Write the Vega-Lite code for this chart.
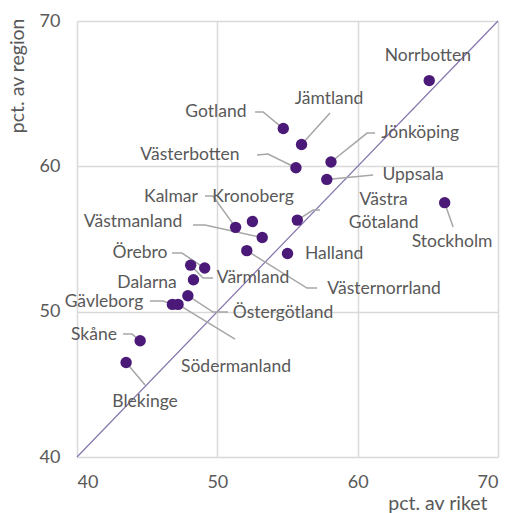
{
  "$schema": "https://vega.github.io/schema/vega-lite/v6.json",
  "width": 421,
  "height": 436,
  "autosize": {"type": "none"},
  "padding": {"left": 77, "top": 21, "right": 11, "bottom": 56},
  "background": "white",
  "config": {
    "view": {"stroke": null},
    "font": "Lato",
    "axis": {
      "grid": true, "gridColor": "#d9d9d9", "gridWidth": 1.5,
      "domain": false, "ticks": false,
      "labelColor": "#595959", "labelFontSize": 18, "labelFont": "Lato",
      "titleColor": "#595959", "titleFontSize": 19.5, "titleFont": "Lato", "titleFontWeight": "normal"
    }
  },
  "datasets": {
    "points": [
      {"region": "Norrbotten", "riket": 65.1, "reg": 65.9, "lx": 65.0, "ly": 67.6},
      {"region": "Gotland", "riket": 54.7, "reg": 62.6, "lx": 49.9, "ly": 63.74},
      {"region": "Jämtland", "riket": 56.0, "reg": 61.5, "lx": 57.96, "ly": 64.63},
      {"region": "Jönköping", "riket": 58.1, "reg": 60.3, "lx": 64.45, "ly": 62.29},
      {"region": "Västerbotten", "riket": 55.6, "reg": 59.9, "lx": 48.05, "ly": 60.78},
      {"region": "Uppsala", "riket": 57.8, "reg": 59.1, "lx": 63.95, "ly": 59.4},
      {"region": "Stockholm", "riket": 66.2, "reg": 57.5, "lx": 66.73, "ly": 54.79},
      {"region": "Västra Götaland", "riket": 55.7, "reg": 56.3, "lx": 61.85, "ly": 57.68},
      {"region": "Halland", "riket": 55.0, "reg": 54.0, "lx": 58.32, "ly": 53.96},
      {"region": "Kalmar", "riket": 51.3, "reg": 55.8, "lx": 46.7, "ly": 57.9},
      {"region": "Kronoberg", "riket": 52.5, "reg": 56.2, "lx": 52.54, "ly": 57.9},
      {"region": "Västmanland", "riket": 53.2, "reg": 55.1, "lx": 43.99, "ly": 56.2},
      {"region": "Västernorrland", "riket": 52.1, "reg": 54.2, "lx": 61.88, "ly": 51.56},
      {"region": "Örebro", "riket": 49.1, "reg": 53.0, "lx": 44.49, "ly": 54.03},
      {"region": "Värmland", "riket": 48.1, "reg": 53.2, "lx": 52.54, "ly": 52.31},
      {"region": "Dalarna", "riket": 48.3, "reg": 52.2, "lx": 44.99, "ly": 51.97},
      {"region": "Östergötland", "riket": 47.9, "reg": 51.1, "lx": 54.68, "ly": 49.9},
      {"region": "Gävleborg", "riket": 46.8, "reg": 50.5, "lx": 41.92, "ly": 50.65},
      {"region": "Södermanland", "riket": 47.2, "reg": 50.5, "lx": 51.33, "ly": 46.19},
      {"region": "Skåne", "riket": 44.5, "reg": 48.0, "lx": 41.21, "ly": 48.42},
      {"region": "Blekinge", "riket": 43.5, "reg": 46.5, "lx": 44.85, "ly": 43.78}
    ],
    "leaders": [
      {"region": "Jämtland", "i": 0, "x": 56.0, "y": 61.5},
      {"region": "Jämtland", "i": 1, "x": 58.03, "y": 63.67},
      {"region": "Gotland", "i": 0, "x": 52.69, "y": 63.74},
      {"region": "Gotland", "i": 1, "x": 53.26, "y": 63.74},
      {"region": "Gotland", "i": 2, "x": 54.7, "y": 62.6},
      {"region": "Västerbotten", "i": 0, "x": 52.83, "y": 60.78},
      {"region": "Västerbotten", "i": 1, "x": 53.61, "y": 60.85},
      {"region": "Västerbotten", "i": 2, "x": 55.6, "y": 59.9},
      {"region": "Jönköping", "i": 0, "x": 61.24, "y": 62.29},
      {"region": "Jönköping", "i": 1, "x": 60.67, "y": 62.29},
      {"region": "Jönköping", "i": 2, "x": 58.1, "y": 60.3},
      {"region": "Uppsala", "i": 0, "x": 61.1, "y": 59.4},
      {"region": "Uppsala", "i": 1, "x": 57.8, "y": 59.1},
      {"region": "Västra Götaland", "i": 0, "x": 57.32, "y": 56.99},
      {"region": "Västra Götaland", "i": 1, "x": 56.82, "y": 56.99},
      {"region": "Västra Götaland", "i": 2, "x": 55.7, "y": 56.3},
      {"region": "Stockholm", "i": 0, "x": 66.2, "y": 57.5},
      {"region": "Stockholm", "i": 1, "x": 66.8, "y": 55.82},
      {"region": "Kalmar", "i": 0, "x": 49.12, "y": 57.96},
      {"region": "Kalmar", "i": 1, "x": 49.69, "y": 57.96},
      {"region": "Kalmar", "i": 2, "x": 51.3, "y": 55.8},
      {"region": "Västmanland", "i": 0, "x": 48.27, "y": 55.96},
      {"region": "Västmanland", "i": 1, "x": 49.12, "y": 55.96},
      {"region": "Västmanland", "i": 2, "x": 53.2, "y": 55.1},
      {"region": "Örebro", "i": 0, "x": 46.77, "y": 54.03},
      {"region": "Örebro", "i": 1, "x": 47.48, "y": 54.03},
      {"region": "Örebro", "i": 2, "x": 49.1, "y": 53.0},
      {"region": "Värmland", "i": 0, "x": 49.69, "y": 52.31},
      {"region": "Värmland", "i": 1, "x": 48.98, "y": 52.31},
      {"region": "Värmland", "i": 2, "x": 48.1, "y": 53.2},
      {"region": "Gävleborg", "i": 0, "x": 45.2, "y": 50.73},
      {"region": "Gävleborg", "i": 1, "x": 46.13, "y": 50.73},
      {"region": "Gävleborg", "i": 2, "x": 46.8, "y": 50.5},
      {"region": "Östergötland", "i": 0, "x": 47.9, "y": 51.1},
      {"region": "Östergötland", "i": 1, "x": 49.69, "y": 49.97},
      {"region": "Östergötland", "i": 2, "x": 50.76, "y": 49.97},
      {"region": "Södermanland", "i": 0, "x": 47.2, "y": 50.5},
      {"region": "Södermanland", "i": 1, "x": 51.26, "y": 48.11},
      {"region": "Skåne", "i": 0, "x": 43.28, "y": 48.46},
      {"region": "Skåne", "i": 1, "x": 43.92, "y": 48.46},
      {"region": "Skåne", "i": 2, "x": 44.5, "y": 48.0},
      {"region": "Blekinge", "i": 0, "x": 43.5, "y": 46.5},
      {"region": "Blekinge", "i": 1, "x": 44.85, "y": 44.95},
      {"region": "Västernorrland", "i": 0, "x": 57.11, "y": 51.62},
      {"region": "Västernorrland", "i": 1, "x": 56.39, "y": 51.62},
      {"region": "Västernorrland", "i": 2, "x": 52.1, "y": 54.2}
    ],
    "diag": [{"x0": 40, "y0": 40, "x1": 70, "y1": 70}]
  },
  "layer": [
    {
      "data": {"name": "diag"},
      "mark": {"type": "rule", "color": "#8474ad", "strokeWidth": 1.2},
      "encoding": {
        "x": {"field": "x0", "type": "quantitative",
              "scale": {"domain": [40, 70], "nice": false, "zero": false},
              "axis": {"values": [40, 50, 60, 70], "title": "pct. av riket", "labelPadding": 16,
                       "titleX": 410, "titleY": 46, "titleAlign": "right", "titleBaseline": "middle"}},
        "y": {"field": "y0", "type": "quantitative",
              "scale": {"domain": [40, 70], "nice": false, "zero": false},
              "axis": {"values": [40, 50, 60, 70], "title": "pct. av region", "labelPadding": 17,
                       "titleX": -60, "titleY": -3, "titleAngle": -90, "titleAlign": "right", "titleBaseline": "middle"}},
        "x2": {"field": "x1"},
        "y2": {"field": "y1"}
      }
    },
    {
      "data": {"name": "leaders"},
      "mark": {"type": "line", "color": "#a6a6a6", "strokeWidth": 1.5},
      "encoding": {
        "x": {"field": "x", "type": "quantitative"},
        "y": {"field": "y", "type": "quantitative"},
        "detail": {"field": "region"},
        "order": {"field": "i"}
      }
    },
    {
      "data": {"name": "points"},
      "mark": {"type": "circle", "color": "#4b1a78", "opacity": 1, "size": 130},
      "encoding": {
        "x": {"field": "riket", "type": "quantitative"},
        "y": {"field": "reg", "type": "quantitative"}
      }
    },
    {
      "data": {"name": "points"},
      "mark": {"type": "text", "color": "#595959", "fontSize": 17.5, "font": "Lato", "align": "center", "baseline": "middle", "lineBreak": " ", "lineHeight": 23},
      "encoding": {
        "x": {"field": "lx", "type": "quantitative"},
        "y": {"field": "ly", "type": "quantitative"},
        "text": {"field": "region"}
      }
    }
  ]
}
